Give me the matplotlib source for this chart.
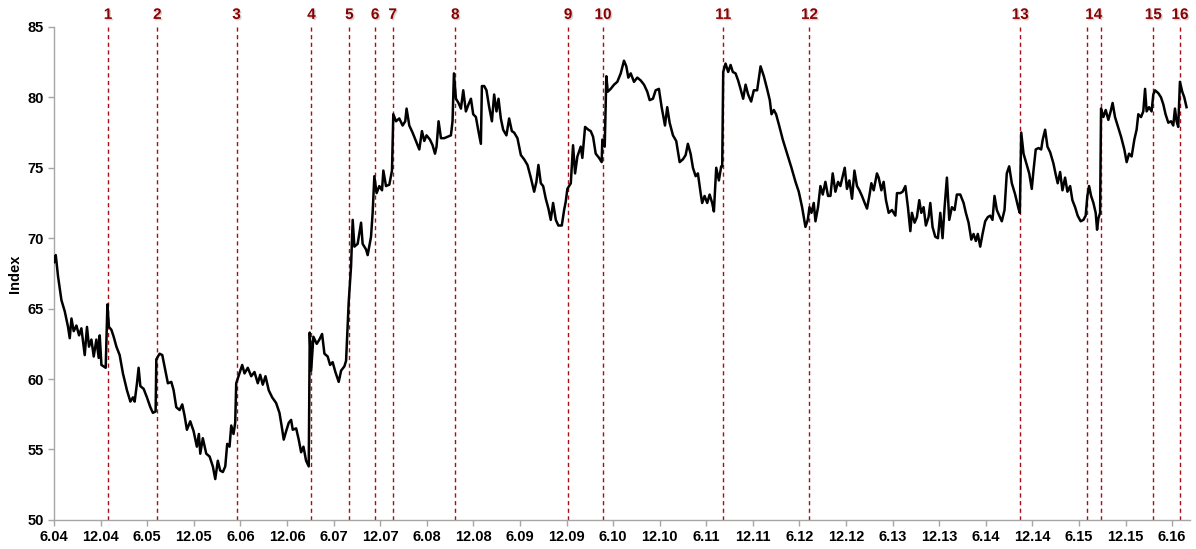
import numpy as np
import matplotlib
matplotlib.use('agg')
import matplotlib.pyplot as plt
import matplotlib.patheffects as pe

# x = months since June 2004, y = index level
months = [
    0.00, 0.22, 0.51, 0.95, 1.38, 1.80, 2.02, 2.24, 2.53, 2.88, 3.22, 3.52, 3.95, 4.24, 4.50,
    4.81, 5.11, 5.45, 5.75, 5.88, 6.10, 6.65, 6.87, 7.07, 7.38, 7.68, 8.03, 8.45, 8.87, 9.39,
    9.83, 10.16, 10.38, 10.68, 10.89, 11.11, 11.54, 11.96, 12.40, 12.73, 13.08, 13.17, 13.59,
    13.94, 14.37, 14.66, 15.10, 15.40, 15.74, 16.17, 16.51, 16.81, 17.11, 17.54, 17.97, 18.39,
    18.65, 18.83, 19.16, 19.60, 20.03, 20.45, 20.76, 21.09, 21.40, 21.74, 22.05, 22.30, 22.60,
    22.82, 23.11, 23.33, 23.46, 23.88, 24.23, 24.53, 24.95, 25.39, 25.81, 26.24, 26.55, 26.88,
    27.23, 27.65, 28.09, 28.60, 29.03, 29.33, 29.58, 29.89, 30.23, 30.53, 30.74, 31.18, 31.51,
    31.82, 32.12, 32.46, 32.80, 32.93, 33.11, 33.40, 33.83, 34.17, 34.52, 34.82, 35.24, 35.55,
    35.88, 36.23, 36.66, 36.97, 37.39, 37.61, 37.94, 38.25, 38.46, 38.68, 39.10, 39.54, 39.74,
    40.18, 40.39, 40.82, 41.03, 41.25, 41.54, 41.89, 42.24, 42.41, 42.75, 43.18, 43.52, 43.69,
    44.04, 44.46, 44.89, 45.23, 45.40, 45.75, 46.17, 46.61, 47.04, 47.38, 47.68, 47.97, 48.41,
    48.75, 49.06, 49.26, 49.52, 49.83, 50.25, 50.68, 51.11, 51.32, 51.50, 51.76, 52.09, 52.40,
    52.70, 53.04, 53.38, 53.69, 53.98, 54.33, 54.62, 54.97, 55.10, 55.40, 55.69, 56.04, 56.39,
    56.68, 56.98, 57.24, 57.54, 57.84, 58.26, 58.61, 58.96, 59.25, 59.68, 60.12, 60.54, 60.97,
    61.40, 61.83, 62.12, 62.38, 62.69, 62.99, 63.33, 63.67, 63.97, 64.27, 64.62, 64.95, 65.39,
    65.69, 65.90, 66.11, 66.55, 66.84, 67.10, 67.40, 67.83, 68.04, 68.39, 68.81, 69.12, 69.42,
    69.76, 70.19, 70.53, 70.61, 70.92, 71.13, 71.31, 71.69, 72.12, 72.54, 72.98, 73.40, 73.70,
    73.96, 74.27, 74.69, 75.11, 75.55, 75.98, 76.40, 76.71, 77.13, 77.48, 77.90, 78.25, 78.68,
    78.97, 79.28, 79.71, 80.13, 80.57, 80.99, 81.34, 81.63, 81.98, 82.28, 82.63, 82.92, 83.27,
    83.47, 83.78, 84.12, 84.43, 84.76, 84.98, 85.28, 85.62, 85.92, 86.05, 86.18, 86.48, 86.82,
    87.13, 87.42, 87.77, 88.10, 88.41, 88.75, 89.06, 89.39, 89.78, 90.12, 90.55, 90.99, 91.41,
    91.83, 92.18, 92.40, 92.70, 92.99, 93.43, 93.85, 94.41, 94.97, 95.49, 95.91, 96.34, 96.77,
    97.07, 97.29, 97.55, 97.84, 98.06, 98.39, 98.70, 99.00, 99.34, 99.68, 99.99, 100.28, 100.63,
    100.97, 101.27, 101.57, 101.83, 102.12, 102.43, 102.77, 103.08, 103.41, 103.72, 104.05,
    104.40, 104.70, 105.00, 105.26, 105.56, 105.98, 106.20, 106.55, 106.84, 107.14, 107.49,
    107.91, 108.35, 108.56, 108.99, 109.29, 109.64, 109.97, 110.28, 110.48, 110.83, 111.13,
    111.43, 111.69, 111.99, 112.28, 112.63, 112.85, 113.14, 113.49, 113.83, 114.14, 114.43,
    114.69, 114.99, 115.29, 115.63, 115.98, 116.27, 116.71, 117.14, 117.43, 117.78, 118.13,
    118.42, 118.72, 118.97, 119.28, 119.58, 119.92, 120.26, 120.57, 120.86, 121.12, 121.42,
    121.73, 122.06, 122.41, 122.70, 123.01, 123.35, 123.78, 124.21, 124.38, 124.56, 124.86,
    125.28, 125.59, 125.92, 126.14, 126.43, 126.78, 127.13, 127.33, 127.64, 127.94, 128.29,
    128.71, 129.01, 129.26, 129.57, 129.87, 130.21, 130.51, 130.86, 131.15, 131.50, 131.83,
    132.22, 132.57, 132.86, 133.08, 133.30, 133.56, 133.86, 134.15, 134.33, 134.50, 134.72,
    134.84, 135.14, 135.44, 135.78, 136.08, 136.33, 136.64, 136.98, 137.42, 137.84, 138.14,
    138.45, 138.78, 139.13, 139.42, 139.64, 139.99, 140.28, 140.51, 140.71, 141.02, 141.35,
    141.57, 141.79, 142.21, 142.56, 142.86, 143.15, 143.50, 143.85, 144.14, 144.36, 144.57,
    144.78, 145.00, 145.30, 145.56, 145.85,
]
index = [
    68.3, 68.8, 67.3, 65.6, 64.8, 63.7, 62.9, 64.3, 63.4, 63.8, 63.1, 63.6, 61.7, 63.7, 62.3,
    62.8, 61.6, 62.8, 61.5, 63.1, 61.0, 60.8, 65.3, 63.7, 63.5, 63.0, 62.3, 61.7, 60.4, 59.2,
    58.4, 58.7, 58.4, 59.7, 60.8, 59.5, 59.3, 58.7, 58.0, 57.6, 57.7, 61.4, 61.8,
    61.7, 60.5, 59.7, 59.8, 59.2, 58.0, 57.8, 58.2, 57.4, 56.4, 57.0, 56.3, 55.2,
    56.1, 54.7, 55.8, 54.7, 54.5, 53.8, 52.9, 54.2, 53.5, 53.4, 53.8, 55.4, 55.2,
    56.7, 56.1, 56.9, 59.7, 60.4, 61.0, 60.4, 60.8, 60.2, 60.5, 59.7, 60.3, 59.6,
    60.2, 59.2, 58.7, 58.3, 57.6, 56.6, 55.7, 56.3, 56.9, 57.1, 56.4, 56.5, 55.7,
    54.8, 55.2, 54.2, 53.8, 63.3, 60.6, 63.0, 62.5, 62.8, 63.2, 61.8, 61.6, 61.0,
    61.2, 60.5, 59.8, 60.6, 60.9, 61.3, 65.4, 68.0, 71.3, 69.4, 69.6, 71.1, 69.6,
    69.2, 68.8, 70.1, 71.8, 74.4, 73.2, 73.7, 73.4, 74.8, 73.7, 73.8, 74.8, 78.8,
    78.3, 78.5, 78.0, 78.3, 79.2, 78.0, 77.5, 76.9, 76.3, 77.6, 76.9, 77.3, 77.0,
    76.6, 76.0, 76.5, 78.3, 77.1, 77.1, 77.2, 77.3, 78.3, 81.7, 79.9, 79.6, 79.2,
    80.5, 79.0, 79.5, 79.9, 78.8, 78.6, 77.7, 76.7, 80.8, 80.8, 80.5, 79.3, 78.3,
    80.2, 79.0, 79.9, 78.5, 77.7, 77.3, 78.5, 77.6, 77.5, 77.1, 75.9, 75.6, 75.2,
    74.3, 73.3, 74.0, 75.2, 73.9, 73.7, 72.8, 72.1, 71.3, 72.5, 71.3, 70.9, 70.9,
    72.0, 72.6, 73.5, 73.9, 76.6, 74.6, 75.8, 76.5, 75.7, 77.9, 77.7, 77.6, 77.2,
    76.0, 75.7, 75.4, 77.0, 76.5, 81.5, 80.4, 80.6, 80.9, 81.1, 81.7, 82.6, 82.2,
    81.4, 81.7, 81.1, 81.4, 81.2, 80.9, 80.4, 79.8, 79.9, 80.5, 80.6, 79.3, 78.0,
    79.3, 78.2, 77.3, 76.9, 75.4, 75.6, 75.9, 76.7, 76.0, 75.0, 74.4, 74.6, 73.2,
    72.5, 73.0, 72.5, 73.1, 72.5, 71.9, 75.0, 74.1, 75.1, 75.1, 81.8, 82.4, 81.8,
    82.3, 81.8, 81.7, 81.2, 80.6, 79.9, 80.9, 80.2, 79.7, 80.5, 80.5, 82.2, 81.5,
    80.6, 79.8, 78.8, 79.1, 78.8, 77.9, 77.0, 76.0, 75.0, 74.0, 73.3, 72.2, 70.8,
    71.3, 72.2, 71.8, 72.5, 71.2, 72.2, 73.7, 73.1, 74.0, 73.0, 73.0, 74.6, 73.3,
    74.0, 73.7, 74.4, 75.0, 73.5, 74.1, 72.8, 74.8, 73.7, 73.4, 73.0,
    72.5, 72.1, 73.0, 73.9, 73.4, 74.6, 74.3, 73.4, 74.0, 72.7, 71.8,
    72.0, 71.6, 73.2, 73.2, 73.3, 73.7, 72.2, 70.5, 71.8, 71.1, 71.5,
    72.7, 71.8, 72.2, 70.9, 71.5, 72.5, 70.8, 70.1, 70.0, 71.8, 70.0,
    72.2, 74.3, 71.3, 72.2, 72.0, 73.1, 73.1, 72.5, 71.8, 71.1, 69.9,
    70.3, 69.8, 70.3, 69.4, 70.3, 71.2, 71.5, 71.6, 71.3, 73.0, 72.0,
    71.6, 71.2, 72.0, 74.6, 75.1, 73.9, 73.1, 72.1, 71.8, 77.5, 76.0,
    75.2, 74.6, 73.5, 74.8, 76.3, 76.4, 76.3, 77.0, 77.7, 76.5, 76.1,
    75.3, 74.5, 73.9, 74.7, 73.4, 74.3, 73.3, 73.7, 72.7, 72.2, 71.6,
    71.2, 71.3, 71.6, 73.0, 73.7, 73.0, 72.5, 71.8, 70.6, 71.4, 71.8,
    79.2, 78.6, 79.1, 78.4, 79.0, 79.6, 78.6, 78.0, 77.2, 76.3, 75.4,
    76.0, 75.8, 77.0, 77.7, 78.8, 78.6, 79.0, 80.6, 79.0, 79.3, 79.0,
    80.2, 80.5, 80.3, 80.0, 79.5, 78.8, 78.2, 78.3, 78.0, 79.2, 78.3,
    77.9, 81.1, 80.4, 80.0, 79.3,
]

# event markers (14 spans two dates)
event_months = [6.95, 13.30, 23.50, 33.15, 38.03, 41.34, 43.60, 51.67, 66.20, 70.70,
                86.18, 97.29, 124.43, 132.99, 134.84, 141.57, 145.00]
label_months = [6.95, 13.30, 23.50, 33.15, 38.03, 41.34, 43.60, 51.67, 66.20, 70.70,
                86.18, 97.29, 124.43, 133.90, 141.57, 145.00]
label_text = [str(i) for i in range(1, 17)]

tick_pos = list(range(0, 145, 6))
tick_lab = []
for yr in range(4, 17):
    tick_lab.append("6.%02d" % yr)
    if yr < 16:
        tick_lab.append("12.%02d" % yr)

plt.rcParams['font.family'] = ['Liberation Sans', 'DejaVu Sans']


def main():
    fig = plt.figure(figsize=(11.96, 5.49), dpi=100)
    ax = fig.add_axes([0.0452, 0.053, 0.9498, 0.898])

    for m in event_months:
        ax.axvline(m, color='#a50f15', lw=1.0, ls=(0, (3, 2.5)), zorder=1)

    ax.plot(months, index, color='black', lw=1.8, zorder=3)

    for m, t in zip(label_months, label_text):
        ax.annotate(t, xy=(m, 1.0), xycoords=('data', 'axes fraction'),
                    xytext=(0, 12), textcoords='offset pixels',
                    ha='center', va='center', fontsize=11, fontweight='bold',
                    color='#8b0000',
                    path_effects=[pe.withSimplePatchShadow(offset=(1, -1),
                                                           shadow_rgbFace='gray',
                                                           alpha=0.35)])

    ax.set_xlim(0, 146.3)
    ax.set_ylim(50, 85)
    ax.set_yticks(range(50, 86, 5))
    ax.set_xticks(tick_pos)
    ax.set_xticklabels(tick_lab)
    ax.set_ylabel('Index', fontsize=10.5, fontweight='bold', labelpad=4)

    for s in ['top', 'right']:
        ax.spines[s].set_visible(False)
    for s in ['left', 'bottom']:
        ax.spines[s].set_color('#a6a6a6')
        ax.spines[s].set_linewidth(1.0)
    ax.tick_params(axis='both', colors='#a6a6a6', length=4, width=1,
                   labelcolor='black', labelsize=10.5)
    for lab in ax.get_xticklabels() + ax.get_yticklabels():
        lab.set_fontweight('bold')

    fig.savefig('out.png', format='png', dpi=100)


if __name__ == "__main__":
    main()
